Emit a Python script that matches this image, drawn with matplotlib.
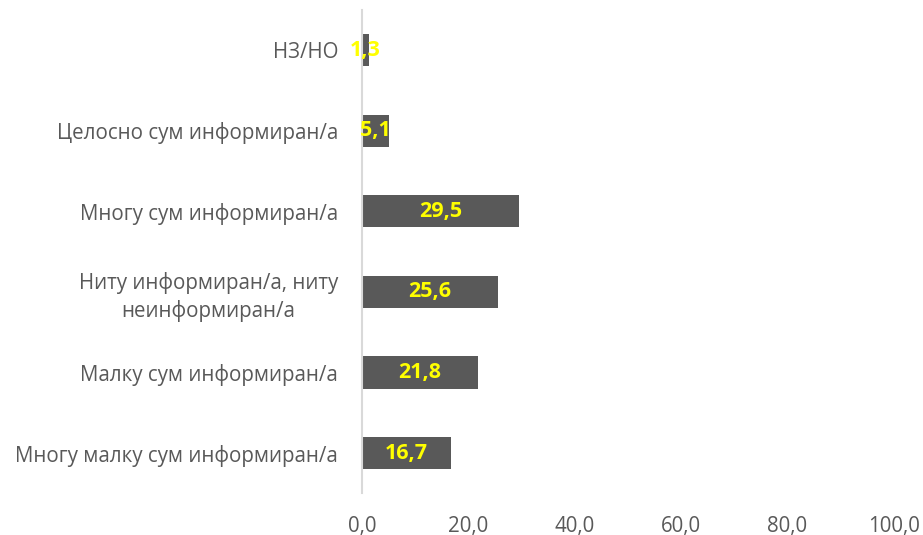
import matplotlib.pyplot as plt

# Одговори и проценти (од горе кон долу)
categories = [
    "НЗ/НО",
    "Целосно сум информиран/а",
    "Многу сум информиран/а",
    "Ниту информиран/а, ниту\nнеинформиран/а",
    "Малку сум информиран/а",
    "Многу малку сум информиран/а",
]
values = [1.3, 5.1, 29.5, 25.6, 21.8, 16.7]
xticks = [0, 20, 40, 60, 80, 100]

plt.rcParams['font.family'] = ['Open Sans', 'DejaVu Sans']

fig = plt.figure(figsize=(9.23, 5.35), dpi=100)
ax = fig.add_axes([0.392, 0.0776, 0.5764, 0.904])

pos = range(len(categories))
ax.barh(pos, values, height=0.4, color='#595959')

for y, v in zip(pos, values):
    ax.text(v / 2, y, f"{v:.1f}".replace('.', ','), ha='center', va='center',
            color='#FFFF00', fontweight='bold', fontsize=15.5)

ax.set_xlim(0, 100)
ax.set_ylim(len(categories) - 0.5, -0.5)
ax.set_yticks(list(pos))
ax.set_yticklabels(categories, fontsize=14.8, color='#595959',
                   multialignment='center', linespacing=1.3)
ax.set_xticks(xticks)
ax.set_xticklabels([f"{t:.1f}".replace('.', ',') for t in xticks],
                   fontsize=14.8, color='#595959')

for side in ['top', 'right', 'bottom']:
    ax.spines[side].set_visible(False)
ax.spines['left'].set_color('#d9d9d9')
ax.spines['left'].set_linewidth(1.5)
ax.tick_params(axis='both', length=0)
ax.tick_params(axis='x', pad=16)
ax.tick_params(axis='y', pad=17)

fig.savefig('out.png', dpi=100)
